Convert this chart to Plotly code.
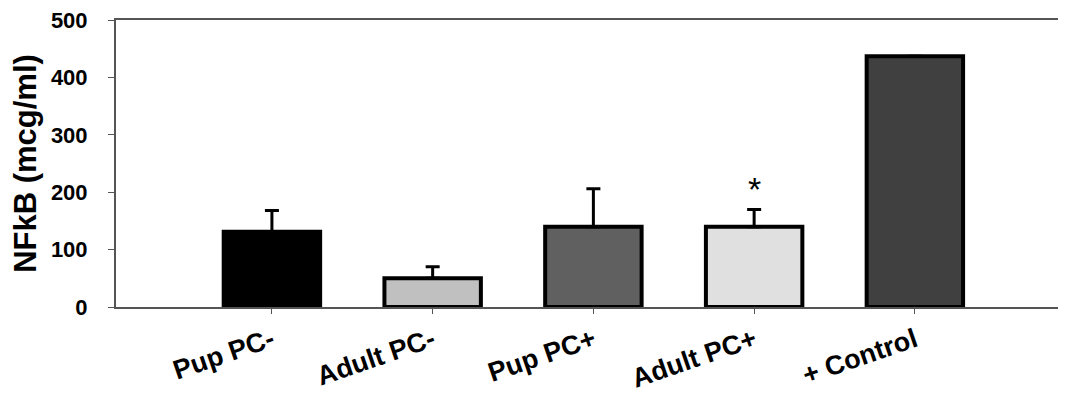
import plotly.graph_objects as go

categories = ["Pup PC-", "Adult PC-", "Pup PC+", "Adult PC+", "+ Control"]
means = [131, 50, 140, 140, 437]
errors_up = [37, 20, 66, 30, 0]
colors = ["#000000", "#c0c0c0", "#606060", "#e0e0e0", "#404040"]
y_ticks = [0, 100, 200, 300, 400, 500]
asterisk_cat = "Adult PC+"
asterisk_y = 205

fig = go.Figure()
fig.add_trace(go.Bar(
    x=categories, y=means,
    marker=dict(color=colors, line=dict(color="black", width=4)),
    width=0.6,
    error_y=dict(type="data", symmetric=False, array=errors_up,
                 arrayminus=[0] * len(means), color="black",
                 thickness=3, width=7, visible=True),
))
fig.add_annotation(x=asterisk_cat, y=asterisk_y, text="*", showarrow=False,
                   font=dict(family="Liberation Sans", size=34, color="black"),
                   yanchor="middle")

fig.update_layout(
    width=1066, height=386,
    margin=dict(l=108, r=0, t=12, b=87),
    plot_bgcolor="white", paper_bgcolor="white",
    showlegend=False,
    xaxis=dict(range=[-0.97, 4.99], showline=True, linecolor="#555555",
               linewidth=2, mirror=True, ticks="outside", ticklen=5,
               tickcolor="#555555", tickwidth=1, tickangle=-19,
               automargin=False, ticklabeloverflow="allow",
               tickfont=dict(family="Liberation Sans", size=27, color="black", weight="bold"),
               showgrid=False, zeroline=False),
    yaxis=dict(range=[0, 500], tickvals=y_ticks, showline=True,
               linecolor="#555555", linewidth=2, ticks="outside", ticklen=6,
               tickcolor="#555555", tickwidth=1,
               tickfont=dict(family="Liberation Sans", size=22, color="black", weight="bold"),
               ticklabelstandoff=16, automargin=False, ticklabeloverflow="allow",
               showgrid=False, zeroline=False,
               title=dict(text="NFkB (mcg/ml)", standoff=6,
                          font=dict(family="Liberation Sans", size=31,
                                    color="black", weight="bold"))),
)
fig.write_html("out.html")
